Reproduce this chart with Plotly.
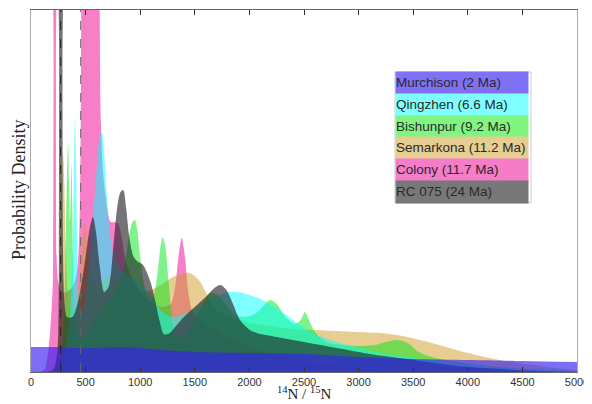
import plotly.graph_objects as go

# ---- data (x = 14N/15N, y = probability density, arbitrary units) ----
murchison_x = [0, 200, 400, 600, 800, 1000, 1200, 1500, 2000, 2500, 3000, 3500, 4000, 4500, 5000]
murchison_y = [25, 25, 24, 24, 25, 24, 22, 20, 19, 18, 15, 13, 12, 11, 10]

qingzhen_x = [0, 250, 320, 360, 385, 395, 403, 412, 425, 445, 470, 500, 540, 580, 610, 635, 650, 665,
              690, 720, 760, 800, 850, 900, 1000, 1100, 1200, 1300, 1400, 1500, 1600, 1700, 1800, 1900,
              2000, 2100, 2200, 2300, 2400, 2500, 2600, 2800, 3000, 3200, 3500, 3800, 4100, 4500, 5000]
qingzhen_y = [0, 3, 25, 60, 140, 220, 255, 210, 120, 65, 60, 75, 110, 170, 215, 238, 239, 225,
              185, 140, 115, 105, 100, 95, 88, 76, 60, 55, 58, 63, 70, 76, 80, 80,
              77, 73, 67, 60, 52, 44, 38, 30, 24, 19, 14, 9, 6, 3, 1]

bishunpur_x = [0, 240, 290, 315, 330, 340, 348, 356, 364, 372, 378, 386, 400, 430, 470, 520, 580, 650,
               720, 800, 860, 900, 930, 952, 975, 1000, 1040, 1080, 1120, 1160, 1185, 1206, 1230, 1260,
               1290, 1330, 1400, 1480, 1560, 1640, 1700, 1780, 1860, 1950, 2050, 2130, 2190, 2250, 2330,
               2420, 2470, 2509, 2545, 2600, 2700, 2850, 3000, 3150, 3250, 3350, 3450, 3550, 3700, 3900,
               4100, 4400, 4700, 5000]
bishunpur_y = [0, 3, 30, 110, 200, 229, 190, 150, 175, 209, 170, 100, 50, 35, 32, 38, 50, 62,
               72, 85, 110, 138, 150, 152, 140, 115, 85, 70, 75, 100, 125, 135, 125, 90,
               55, 35, 35, 48, 65, 79, 78, 68, 58, 55, 58, 66, 72, 68, 55,
               48, 52, 60, 52, 40, 30, 27, 26, 27, 30, 32, 29, 20, 14, 10,
               7, 4, 2, 1]

semarkona_x = [0, 200, 245, 265, 280, 293, 305, 320, 345, 380, 420, 455, 480, 497, 515, 545, 600, 700,
               800, 900, 1000, 1100, 1200, 1300, 1400, 1450, 1500, 1550, 1600, 1650, 1700, 1800, 1900,
               2000, 2200, 2400, 2600, 2800, 3000, 3200, 3400, 3600, 3800, 4000, 4200, 4400, 4600, 4800,
               5000]
semarkona_y = [0, 3, 30, 110, 190, 219, 190, 120, 70, 60, 75, 110, 140, 149, 130, 95, 85, 95,
               92, 85, 80, 82, 88, 95, 99, 99, 96, 90, 80, 70, 62, 56, 52,
               49, 46, 43, 42, 41, 40, 39, 36, 31, 25, 19, 14, 10, 7, 4,
               2]

colony_x = [0, 120, 150, 175, 192, 200, 207, 213, 222, 228, 236, 250, 280, 320, 380, 420, 445, 458,
            464, 475, 500, 560, 610, 625, 640, 660, 690, 730, 770, 800, 830, 870, 920, 1000, 1100,
            1200, 1280, 1320, 1350, 1380, 1410, 1440, 1480, 1550, 1650, 1800, 2000, 2300, 2700, 3200,
            5000]
colony_y = [0, 2, 15, 40, 70, 90, 300, 520, 520, 300, 110, 90, 80, 80, 85, 100, 150, 300,
            500, 600, 650, 650, 600, 420, 250, 200, 170, 150, 150, 148, 135, 110, 95, 80, 70,
            65, 68, 85, 115, 134, 115, 80, 60, 52, 45, 35, 25, 15, 7, 2,
            0]

rc075_x = [0, 200, 240, 250, 258, 264, 282, 288, 296, 310, 330, 380, 440, 500, 540, 568, 595, 630,
           670, 710, 750, 790, 820, 845, 870, 900, 940, 980, 1020, 1060, 1100, 1140, 1180, 1215,
           1260, 1320, 1400, 1500, 1600, 1680, 1735, 1790, 1850, 1914, 2005, 2100, 2200, 2350, 2500,
           2700, 2900, 3100, 3300, 3500, 3700, 4000, 4300, 4600, 5000]
rc075_y = [0, 2, 20, 40, 300, 600, 600, 300, 100, 65, 55, 55, 75, 115, 145, 155, 140, 105,
           80, 85, 120, 165, 180, 182, 165, 135, 115, 110, 108, 100, 88, 70, 50, 38,
           38, 45, 55, 65, 75, 84, 87, 82, 68, 52, 42, 38, 36, 33, 30,
           26, 22, 18, 15, 12, 9, 5, 3, 1, 0]

names = ["Murchison (2 Ma)", "Qingzhen (6.6 Ma)", "Bishunpur (9.2 Ma)",
         "Semarkona (11.2 Ma)", "Colony (11.7 Ma)", "RC 075 (24 Ma)"]
legend_colors = ["#7f70f5", "#80ffff", "#80f580", "#e6cd91", "#f57dc8", "#787878"]
fill_colors = ["rgba(55,32,240,0.65)", "rgba(0,255,255,0.5)", "rgba(0,230,20,0.5)",
               "rgba(205,155,35,0.5)", "rgba(238,0,145,0.5)", "rgba(30,30,35,0.62)"]

ref_lines = [272, 455]
ref_line_colors = ["#222222", "#666666"]
x_ticks = [0, 500, 1000, 1500, 2000, 2500, 3000, 3500, 4000, 4500, 5000]

series = {
    0: (murchison_x, murchison_y),
    1: (qingzhen_x, qingzhen_y),
    2: (bishunpur_x, bishunpur_y),
    3: (semarkona_x, semarkona_y),
    4: (colony_x, colony_y),
    5: (rc075_x, rc075_y),
}
draw_order = [4, 3, 2, 1, 5, 0]

fig = go.Figure()
for i in draw_order:
    xs, ys = series[i]
    fig.add_trace(go.Scatter(
        x=xs, y=ys, mode="lines", name=names[i],
        line=dict(width=0, shape="spline", smoothing=0.8, color=fill_colors[i]),
        fill="tozeroy", fillcolor=fill_colors[i], showlegend=False, hoverinfo="skip"))

# reference lines
for xv, col in zip(ref_lines, ref_line_colors):
    fig.add_shape(type="line", x0=xv, x1=xv, xref="x", y0=0, y1=1, yref="paper",
                  line=dict(color=col, width=1, dash="dash"))

# page offset (browser body margin) and plot geometry in figure pixels
page_off = 8
fig_w, fig_h = 592 - page_off, 404 - page_off
plot_l, plot_t, plot_w, plot_h = 31 - page_off, 10 - page_off, 546, 362

# legend drawn as coloured boxes (screen coordinates)
top_px, row_h = 72, 21.8
box_l, box_w = 395, 136
def px_to_paper_x(px):
    return (px - page_off - plot_l) / plot_w
def py_to_paper_y(py):
    return (plot_t + plot_h - (py - page_off)) / plot_h

for k in range(len(names)):
    cy = top_px + row_h * (k + 0.5)
    fig.add_annotation(
        x=px_to_paper_x(box_l), y=py_to_paper_y(cy), xref="paper", yref="paper",
        xanchor="left", yanchor="middle", text=names[k], showarrow=False,
        width=box_w - 4, height=row_h, align="left", bgcolor=legend_colors[k], borderpad=0,
        font=dict(family="Liberation Sans, Arial", size=13.5, color="#2a2a2a"))
fig.add_shape(type="rect", xref="paper", yref="paper",
              x0=px_to_paper_x(box_l), x1=px_to_paper_x(box_l + box_w),
              y0=py_to_paper_y(top_px + 6 * row_h), y1=py_to_paper_y(top_px),
              line=dict(color="#cccccc", width=1))

# axis titles
fig.add_annotation(x=px_to_paper_x(304), y=py_to_paper_y(403), xref="paper", yref="paper",
                   xanchor="center", yanchor="bottom", showarrow=False, borderpad=0,
                   text="<sup>14</sup>N / <sup>15</sup>N",
                   font=dict(family="Liberation Serif, serif", size=15, color="#222"))
fig.add_annotation(x=px_to_paper_x(19), y=py_to_paper_y(190), xref="paper", yref="paper",
                   xanchor="center", yanchor="middle", showarrow=False, textangle=-90,
                   text="Probability Density",
                   font=dict(family="Liberation Serif, serif", size=18, color="#222"))

fig.update_layout(
    width=fig_w, height=fig_h,
    margin=dict(l=plot_l, r=fig_w - plot_l - plot_w, t=plot_t, b=fig_h - plot_t - plot_h),
    paper_bgcolor="white", plot_bgcolor="white",
    xaxis=dict(range=[0, 5000], tickvals=x_ticks, ticks="inside", ticklen=5, tickcolor="#333",
               mirror="ticks", showline=True, linecolor="#666", linewidth=1, showgrid=False,
               zeroline=False, automargin=False,
               tickfont=dict(family="Liberation Sans, Arial", size=11, color="#333")),
    yaxis=dict(range=[0, 362], showticklabels=False, ticks="", showline=True, mirror=True,
               linecolor="#aaa", linewidth=1, showgrid=False, zeroline=False, automargin=False),
)

fig.write_html("out.html")
